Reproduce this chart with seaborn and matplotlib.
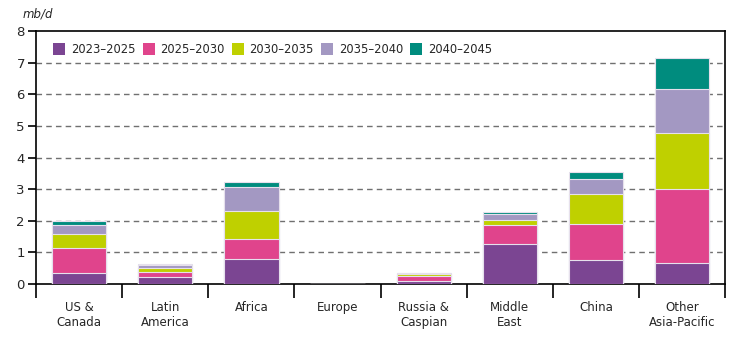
import numpy as np
import pandas as pd
import matplotlib
matplotlib.use("Agg")
import matplotlib.pyplot as plt
from matplotlib.patches import Patch
from matplotlib.ticker import FixedLocator
import seaborn as sns

regions = ["US &\nCanada", "Latin\nAmerica", "Africa", "Europe", "Russia &\nCaspian",
           "Middle\nEast", "China", "Other\nAsia-Pacific"]
periods = ["2023\u20132025", "2025\u20132030", "2030\u20132035", "2035\u20132040", "2040\u20132045"]
p2023_2025 = [0.35, 0.23, 0.79, 0.0, 0.09, 1.27, 0.75, 0.65]
p2025_2030 = [0.78, 0.15, 0.64, 0.0, 0.17, 0.58, 1.16, 2.35]
p2030_2035 = [0.44, 0.12, 0.89, 0.0, 0.06, 0.18, 0.93, 1.77]
p2035_2040 = [0.30, 0.09, 0.74, 0.0, 0.02, 0.19, 0.48, 1.40]
p2040_2045 = [0.11, 0.04, 0.16, 0.0, 0.01, 0.06, 0.21, 0.99]
colors = ["#7B4592", "#E0448C", "#BFD000", "#A398C2", "#008C7E"]

sns.set_theme(style="white")
plt.rcParams['font.family'] = ['DejaVu Sans']

series = [p2023_2025, p2025_2030, p2030_2035, p2035_2040, p2040_2045]
cum = np.cumsum(np.array(series), axis=0)

fig = plt.figure(figsize=(7.5, 3.43), dpi=100)
ax = fig.add_axes([0.048, 0.172, 0.919, 0.7376])

for i in range(len(periods) - 1, -1, -1):
    df = pd.DataFrame({"region": regions, "value": cum[i]})
    sns.barplot(data=df, x="region", y="value", color=colors[i], saturation=1,
                width=0.63, edgecolor="#e6e0ec", linewidth=0.8, ax=ax, zorder=3)

ax.set_xlim(-0.5, len(regions) - 0.5)
ax.set_ylim(0, 8)
ax.set_yticks(range(0, 9))
for y in range(1, 8):
    ax.axhline(y, color="#707070", linestyle=(0, (4, 3)), linewidth=1.0, zorder=1)

ax.set_xlabel("")
ax.set_ylabel("")
for s in ax.spines.values():
    s.set_visible(True)
    s.set_color("black")
    s.set_linewidth(1.2)

ax.tick_params(axis="x", which="major", length=0, labelsize=8.5, pad=12)
ax.xaxis.set_minor_locator(FixedLocator(np.arange(-0.5, len(regions), 1.0)))
ax.tick_params(axis="x", which="minor", length=10, width=1.2, color="black", bottom=True)
ax.tick_params(axis="y", which="major", length=6, width=1.2, color="black", left=True, labelsize=9.5, pad=2)

handles = [Patch(facecolor=c, edgecolor="none", label=l) for c, l in zip(colors, periods)]
ax.legend(handles=handles, loc="upper left", bbox_to_anchor=(0.01, 0.995), ncol=5, frameon=False,
          fontsize=8.3, handlelength=1.05, handleheight=1.2, handletextpad=0.5, columnspacing=0.6)

fig.text(0.03, 0.96, "mb/d", fontsize=8.5, style="italic", ha="left", va="center")

fig.savefig("out.png", dpi=100)
